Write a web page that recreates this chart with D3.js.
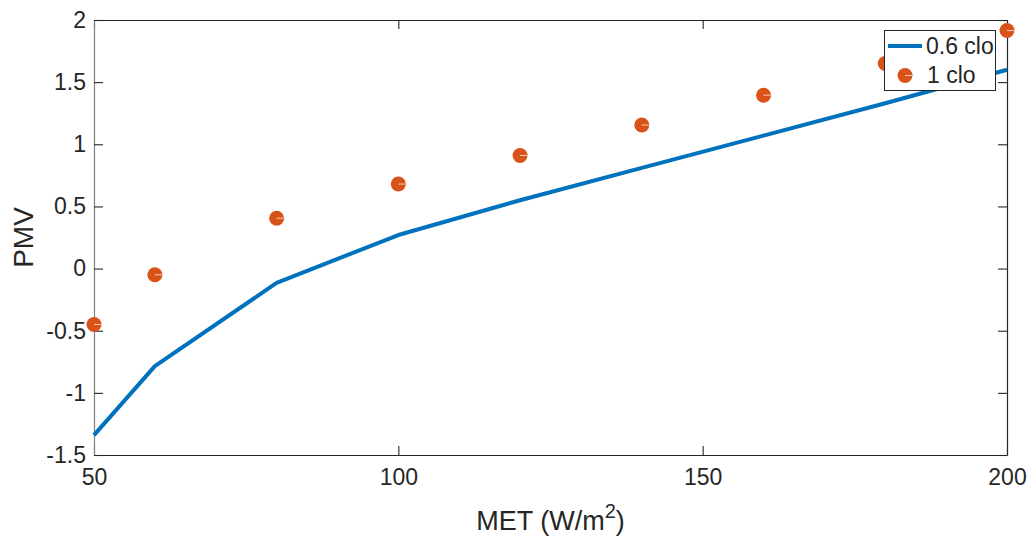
<!DOCTYPE html>
<html><head><meta charset="utf-8">
<script src="https://cdn.jsdelivr.net/npm/d3@7"></script>
<style>body{margin:0;background:#fff}svg{display:block}text{font-family:"Liberation Sans",Arial,sans-serif;fill:#262626}</style>
</head><body><svg id="c" width="1033" height="542"></svg>
<script>
const metValues = [50, 60, 80, 100, 120, 140, 160, 180, 200];
const pmv06clo = [-1.34, -0.785, -0.115, 0.27, 0.55, 0.81, 1.07, 1.33, 1.60];
const pmv1clo = [-0.45, -0.05, 0.405, 0.68, 0.91, 1.155, 1.395, 1.65, 1.915];
const xTicks = [50, 100, 150, 200];
const yTicks = [-1.5, -1, -0.5, 0, 0.5, 1, 1.5, 2];
const seriesNames = ["0.6 clo", "1 clo"];

const svg = d3.select("#c");
const L = 94, R = 1007, T = 20, B = 455;
const x = d3.scaleLinear().domain([50, 200]).range([L, R]);
const y = d3.scaleLinear().domain([-1.5, 2]).range([B, T]);
const ink = "#262626";
const fmt = d => String(d).replace("\u2212", "-");

const tickLen = 9;
const gB = svg.append("g").attr("transform", `translate(0,${B})`)
  .call(d3.axisBottom(x).tickValues(xTicks).tickSizeInner(-tickLen).tickSizeOuter(0).tickPadding(14).tickFormat(fmt));
const gT = svg.append("g").attr("transform", `translate(0,${T})`)
  .call(d3.axisTop(x).tickValues(xTicks).tickSizeInner(-tickLen).tickSizeOuter(0).tickFormat(""));
const gL = svg.append("g").attr("transform", `translate(${L},0)`)
  .call(d3.axisLeft(y).tickValues(yTicks).tickSizeInner(-tickLen).tickSizeOuter(0).tickPadding(8).tickFormat(fmt));
const gR = svg.append("g").attr("transform", `translate(${R},0)`)
  .call(d3.axisRight(y).tickValues(yTicks).tickSizeInner(-tickLen).tickSizeOuter(0).tickFormat(""));
[gB, gT, gL, gR].forEach(g => {
  g.selectAll(".domain").attr("stroke", ink).attr("stroke-width", 1.2);
  g.selectAll(".tick line").attr("stroke", ink).attr("stroke-width", 1.1);
  g.selectAll("text").attr("font-size", 23).attr("fill", ink).style("font-family", '"Liberation Sans",Arial,sans-serif');
});
gL.select(".domain").attr("stroke", "#808080");

svg.append("path").datum(metValues.map((m, i) => [m, pmv06clo[i]]))
  .attr("fill", "none").attr("stroke", "#0072BD").attr("stroke-width", 4)
  .attr("stroke-linejoin", "round")
  .attr("d", d3.line().x(d => x(d[0])).y(d => y(d[1])));

const dots = svg.append("g").selectAll("g").data(metValues.map((m, i) => [m, pmv1clo[i]])).join("g")
  .attr("transform", d => `translate(${x(d[0])},${y(d[1])})`);
dots.append("circle").attr("r", 7.5).attr("fill", "#D95319");
dots.append("line").attr("x1", 0).attr("x2", 7).attr("y1", 0).attr("y2", 0)
  .attr("stroke", "#fff").attr("stroke-opacity", 0.7).attr("stroke-width", 1);

const lg = svg.append("g");
lg.append("rect").attr("x", 884.5).attr("y", 30.5).attr("width", 111).attr("height", 60)
  .attr("fill", "#fff").attr("stroke", ink).attr("stroke-width", 1);
lg.append("line").attr("x1", 888).attr("x2", 922).attr("y1", 46).attr("y2", 46)
  .attr("stroke", "#0072BD").attr("stroke-width", 4);
lg.append("circle").attr("cx", 905).attr("cy", 75.5).attr("r", 7.5).attr("fill", "#D95319");
lg.append("line").attr("x1", 905).attr("x2", 912).attr("y1", 75.5).attr("y2", 75.5)
  .attr("stroke", "#fff").attr("stroke-opacity", 0.7).attr("stroke-width", 1);
lg.append("text").attr("x", 926).attr("y", 54).attr("font-size", 23).text(seriesNames[0]);
lg.append("text").attr("x", 927).attr("y", 83).attr("font-size", 23).text(seriesNames[1]);

const xl = svg.append("text").attr("x", (L + R) / 2).attr("y", 530).attr("text-anchor", "middle").attr("font-size", 27);
xl.append("tspan").text("MET (W/m");
xl.append("tspan").attr("dy", -12).attr("font-size", 20).text("2");
xl.append("tspan").attr("dy", 12).text(")");
svg.append("text").attr("transform", `translate(33,${(T + B) / 2}) rotate(-90)`)
  .attr("text-anchor", "middle").attr("font-size", 28).text("PMV");
</script></body></html>
